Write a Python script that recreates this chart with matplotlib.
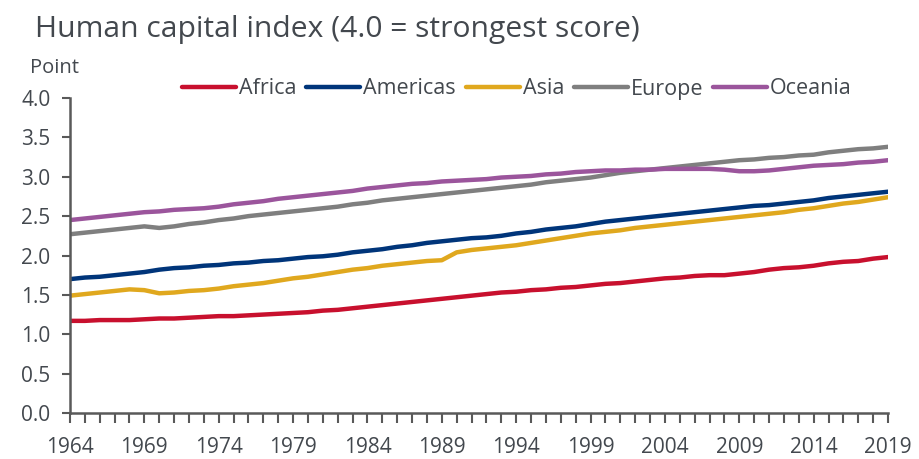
import numpy as np
import matplotlib.pyplot as plt

plt.rcParams['font.family'] = ['Open Sans', 'DejaVu Sans']

years = np.arange(1964, 2020)

africa = [1.17, 1.17, 1.18, 1.18, 1.18, 1.19, 1.20, 1.20, 1.21, 1.22,
          1.23, 1.23, 1.24, 1.25, 1.26, 1.27, 1.28, 1.30, 1.31, 1.33,
          1.35, 1.37, 1.39, 1.41, 1.43, 1.45, 1.47, 1.49, 1.51, 1.53,
          1.54, 1.56, 1.57, 1.59, 1.60, 1.62, 1.64, 1.65, 1.67, 1.69,
          1.71, 1.72, 1.74, 1.75, 1.75, 1.77, 1.79, 1.82, 1.84, 1.85,
          1.87, 1.90, 1.92, 1.93, 1.96, 1.98]
americas = [1.70, 1.72, 1.73, 1.75, 1.77, 1.79, 1.82, 1.84, 1.85, 1.87,
            1.88, 1.90, 1.91, 1.93, 1.94, 1.96, 1.98, 1.99, 2.01, 2.04,
            2.06, 2.08, 2.11, 2.13, 2.16, 2.18, 2.20, 2.22, 2.23, 2.25,
            2.28, 2.30, 2.33, 2.35, 2.37, 2.40, 2.43, 2.45, 2.47, 2.49,
            2.51, 2.53, 2.55, 2.57, 2.59, 2.61, 2.63, 2.64, 2.66, 2.68,
            2.70, 2.73, 2.75, 2.77, 2.79, 2.81]
asia = [1.49, 1.51, 1.53, 1.55, 1.57, 1.56, 1.52, 1.53, 1.55, 1.56,
        1.58, 1.61, 1.63, 1.65, 1.68, 1.71, 1.73, 1.76, 1.79, 1.82,
        1.84, 1.87, 1.89, 1.91, 1.93, 1.94, 2.04, 2.07, 2.09, 2.11,
        2.13, 2.16, 2.19, 2.22, 2.25, 2.28, 2.30, 2.32, 2.35, 2.37,
        2.39, 2.41, 2.43, 2.45, 2.47, 2.49, 2.51, 2.53, 2.55, 2.58,
        2.60, 2.63, 2.66, 2.68, 2.71, 2.74]
europe = [2.27, 2.29, 2.31, 2.33, 2.35, 2.37, 2.35, 2.37, 2.40, 2.42,
          2.45, 2.47, 2.50, 2.52, 2.54, 2.56, 2.58, 2.60, 2.62, 2.65,
          2.67, 2.70, 2.72, 2.74, 2.76, 2.78, 2.80, 2.82, 2.84, 2.86,
          2.88, 2.90, 2.93, 2.95, 2.97, 2.99, 3.02, 3.05, 3.07, 3.09,
          3.11, 3.13, 3.15, 3.17, 3.19, 3.21, 3.22, 3.24, 3.25, 3.27,
          3.28, 3.31, 3.33, 3.35, 3.36, 3.38]
oceania = [2.45, 2.47, 2.49, 2.51, 2.53, 2.55, 2.56, 2.58, 2.59, 2.60,
           2.62, 2.65, 2.67, 2.69, 2.72, 2.74, 2.76, 2.78, 2.80, 2.82,
           2.85, 2.87, 2.89, 2.91, 2.92, 2.94, 2.95, 2.96, 2.97, 2.99,
           3.00, 3.01, 3.03, 3.04, 3.06, 3.07, 3.08, 3.08, 3.09, 3.09,
           3.10, 3.10, 3.10, 3.10, 3.09, 3.07, 3.07, 3.08, 3.10, 3.12,
           3.14, 3.15, 3.16, 3.18, 3.19, 3.21]

names = ['Africa', 'Americas', 'Asia', 'Europe', 'Oceania']
colours = ['#c8102e', '#00357a', '#e0a81e', '#7f7f7f', '#9b559c']
xlabels = np.arange(1964, 2020, 5)

txt = '#43484e'

fig = plt.figure(figsize=(9.19, 4.59), dpi=100)
ax = fig.add_axes([70/919, 1-413/459, 818/919, 315/459])

for vals, name, c in zip([africa, americas, asia, europe, oceania], names, colours):
    ax.plot(years, vals, color=c, lw=3.2, label=name, solid_capstyle='round')

ax.set_xlim(1964, 2019)
ax.set_ylim(0, 4.0)
ax.set_yticks(np.arange(0, 4.01, 0.5))
ax.set_yticklabels(['%.1f' % v for v in np.arange(0, 4.01, 0.5)])
ax.set_xticks(years, minor=True)
ax.set_xticks(xlabels)
ax.set_xticklabels([str(y) for y in xlabels])

for s in ['top', 'right']:
    ax.spines[s].set_visible(False)
for s in ['left', 'bottom']:
    ax.spines[s].set_color('#595959')
    ax.spines[s].set_linewidth(1.8)

ax.tick_params(axis='y', direction='out', length=6, width=1.5, color='#595959',
               labelsize=15, labelcolor=txt, pad=8)
ax.tick_params(axis='x', which='both', direction='out', length=7, width=1.5,
               color='#595959', labelsize=15, labelcolor=txt, pad=10)

fig.text(35/919, 1-30/459, 'Human capital index (4.0 = strongest score)',
         fontsize=21.6, color=txt, va='center', ha='left')
fig.text(30/919, 1-68/459, 'Point', fontsize=14.5, color=txt, va='center', ha='left')

fig.legend(loc='center', bbox_to_anchor=(517/919, 1-89/459), ncol=5, frameon=False,
           fontsize=15.5, labelcolor=txt, handlelength=2.5, handletextpad=0.15,
           columnspacing=0.45, borderpad=0)

fig.savefig('out.png', dpi=100)
